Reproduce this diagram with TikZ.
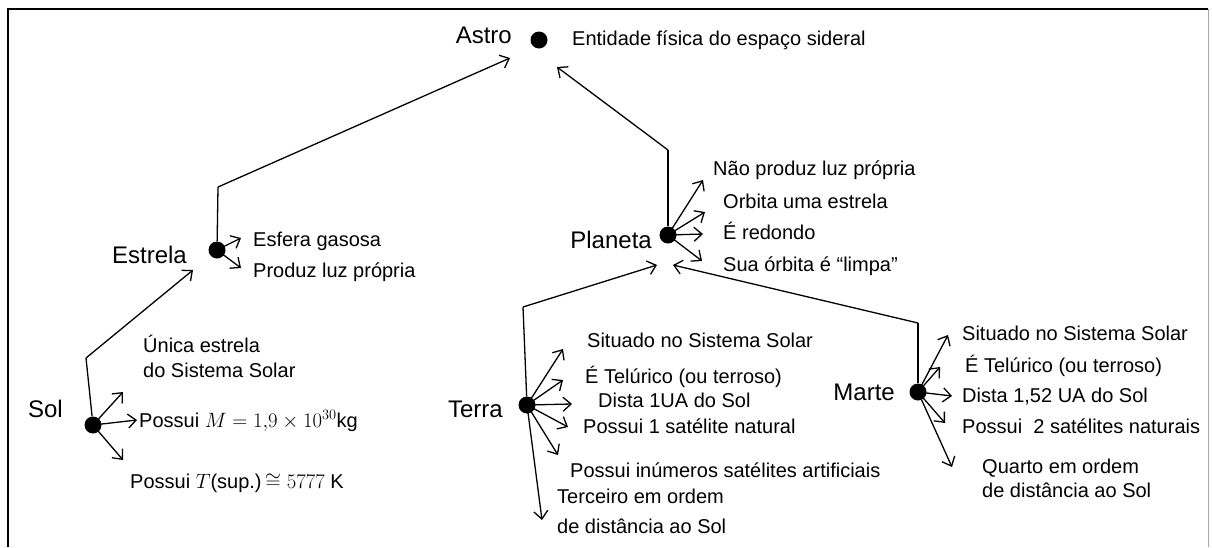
\documentclass[tikz,border=0pt]{standalone}
\usepackage{fontspec}
\setmainfont{Liberation Sans}
\usepackage{amsmath}
\usepackage{amssymb}
\usetikzlibrary{arrows.meta}

\begin{document}
\begin{tikzpicture}[x=1pt, y=-1pt,
  ponto/.style={circle, fill=black, inner sep=0pt, minimum size=17pt},
  conceito/.style={anchor=base east, inner sep=0pt, font=\fontsize{24}{28}\selectfont},
  nota/.style={anchor=base west, inner sep=0pt, align=left, font=\fontsize{20}{25}\selectfont},
  seta/.style={-{Straight Barb[length=8pt,width=14pt]}, line width=1.3pt}]
\useasboundingbox (0,0) rectangle (1212,547);
% moldura
\draw[line width=2pt] (8,547) -- (8,9) -- (1208,9);
\draw[line width=1pt, gray!70] (1208,9) -- (1208,547);

% pontos
\node[ponto] (astro) at (539,40) {};
\node[ponto] (estrela) at (217,250) {};
\node[ponto] (planeta) at (668,235) {};
\node[ponto] (sol) at (93,425) {};
\node[ponto] (terra) at (527,405) {};
\node[ponto] (marte) at (918,392) {};

% nomes
\node[conceito] (nastro) at (512,43) {Astro};
\node[conceito] (nestrela) at (187,263) {Estrela};
\node[conceito] (nplaneta) at (652,248) {Planeta};
\node[conceito] (nsol) at (63,417) {Sol};
\node[conceito] (nterra) at (503,417) {Terra};
\node[conceito] (nmarte) at (895,400) {Marte};

% dobras e pontas
\coordinate (dobraE) at (218,187);
\coordinate (pontaE) at (510,58);
\coordinate (dobraP) at (668,150);
\coordinate (pontaP) at (557,67);
\coordinate (dobraS) at (86,358);
\coordinate (pontaS) at (193,270);
\coordinate (dobraT) at (523,307);
\coordinate (pontaT) at (657,265);
\coordinate (dobraM) at (918,323);
\coordinate (pontaM) at (673,265);

\draw[line width=1.3pt] (estrela) -- (dobraE);
\draw[seta] (dobraE) -- (pontaE);
\draw[line width=1.3pt] (planeta) -- (dobraP);
\draw[seta] (dobraP) -- (pontaP);
\draw[line width=1.3pt] (sol) -- (dobraS);
\draw[seta] (dobraS) -- (pontaS);
\draw[line width=1.3pt] (terra) -- (dobraT);
\draw[seta] (dobraT) -- (pontaT);
\draw[line width=1.3pt] (marte) -- (dobraM);
\draw[seta] (dobraM) -- (pontaM);

% caracteristicas
\node[nota] (a1) at (572,45) {Entidade física do espaço sideral};

\node[nota] (e1) at (253,246) {Esfera gasosa};
\node[nota] (e2) at (253,277) {Produz luz própria};
\coordinate (ce1) at (241,238);
\coordinate (ce2) at (241,268);

\node[nota] (p1) at (713,175) {Não produz luz própria};
\node[nota] (p2) at (723,208) {Orbita uma estrela};
\node[nota] (p3) at (723,239) {É redondo};
\node[nota] (p4) at (723,271) {Sua órbita é “limpa”};
\coordinate (cp1) at (703,180);
\coordinate (cp2) at (705,212);
\coordinate (cp3) at (703,234);
\coordinate (cp4) at (702,261);

\node[nota] (s1) at (143,377) {Única estrela\\do Sistema Solar};
\node[nota] (s2) at (139,427) {Possui $M = 1{,}9 \times 10^{30}$kg};
\node[nota] (s3) at (130,488) {Possui $T$(sup.)\,$\cong 5777$ K};
\coordinate (cs1) at (123,392);
\coordinate (cs2) at (137,420);
\coordinate (cs3) at (123,460);

\node[nota] (t1) at (587,347) {Situado no Sistema Solar};
\node[nota] (t2) at (585,383) {É Telúrico (ou terroso)};
\node[nota] (t3) at (598,407) {Dista 1UA do Sol};
\node[nota] (t4) at (583,433) {Possui 1 satélite natural};
\node[nota] (t5) at (570,477) {Possui inúmeros satélites artificiais};
\node[nota, font=\fontsize{20}{30}\selectfont] (t6) at (557,533) {Terceiro em ordem\\de distância ao Sol};
\coordinate (ct1) at (563,349);
\coordinate (ct2) at (563,380);
\coordinate (ct3) at (572,404);
\coordinate (ct4) at (568,427);
\coordinate (ct5) at (558,455);
\coordinate (ct6) at (542,520);

\node[nota] (m1) at (962,340) {Situado no Sistema Solar};
\node[nota] (m2) at (965,372) {É Telúrico (ou terroso)};
\node[nota] (m3) at (962,402) {Dista 1,52 UA do Sol};
\node[nota] (m4) at (962,433) {Possui~ 2 satélites naturais};
\node[nota, font=\fontsize{20}{24}\selectfont] (m5) at (982,497) {Quarto em ordem\\de distância ao Sol};
\coordinate (cm1) at (948,335);
\coordinate (cm2) at (940,367);
\coordinate (cm3) at (952,396);
\coordinate (cm4) at (945,423);
\coordinate (cm5) at (952,467);

\foreach \c in {ce1,ce2} \draw[seta] (estrela.center) -- (\c);
\foreach \c in {cp1,cp2,cp3,cp4} \draw[seta] (planeta.center) -- (\c);
\foreach \c in {cs1,cs2,cs3} \draw[seta] (sol.center) -- (\c);
\foreach \c in {ct1,ct2,ct3,ct4,ct5,ct6} \draw[seta] (terra.center) -- (\c);
\foreach \c in {cm1,cm2,cm3,cm4,cm5} \draw[seta] (marte.center) -- (\c);
\end{tikzpicture}
\end{document}
